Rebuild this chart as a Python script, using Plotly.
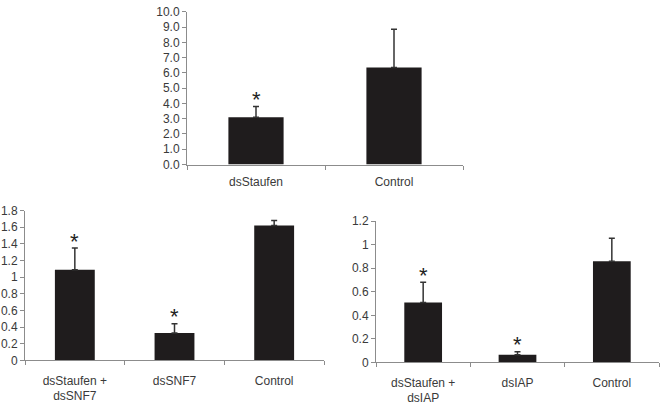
import plotly.graph_objects as go

# top panel
top_labels = ["dsStaufen", "Control"]
top_values = [3.1, 6.35]
top_errors = [0.7, 2.5]
top_stars = ["*", ""]

# bottom left panel
left_labels = ["dsStaufen +<br>dsSNF7", "dsSNF7", "Control"]
left_values = [1.09, 0.33, 1.62]
left_errors = [0.26, 0.11, 0.06]
left_stars = ["*", "*", ""]

# bottom right panel
right_labels = ["dsStaufen +<br>dsIAP", "dsIAP", "Control"]
right_values = [0.51, 0.065, 0.86]
right_errors = [0.17, 0.025, 0.195]
right_stars = ["*", "*", ""]

BAR = "#1f1c1d"
AXIS = "#8c8c8c"
TEXT = "#3a3a3a"

fig = go.Figure()

panels = [
    (top_labels, top_values, top_errors, top_stars, "x", "y"),
    (left_labels, left_values, left_errors, left_stars, "x2", "y2"),
    (right_labels, right_values, right_errors, right_stars, "x3", "y3"),
]
for labels, values, errors, stars, xa, ya in panels:
    fig.add_trace(
        go.Bar(
            x=labels,
            y=values,
            width=0.4,
            marker={"color": BAR, "line": {"width": 0}},
            error_y={
                "type": "data",
                "symmetric": False,
                "array": errors,
                "arrayminus": [0] * len(errors),
                "color": "#333333",
                "thickness": 1.5,
                "width": 3,
            },
            xaxis=xa,
            yaxis=ya,
            showlegend=False,
        )
    )
    # asterisks sit just above the error bar
    for label, v, e, s in zip(labels, values, errors, stars):
        if s:
            fig.add_annotation(
                x=label,
                y=v + e,
                xref=xa,
                yref=ya,
                text=s,
                showarrow=False,
                yanchor="middle",
                yshift=7,
                font={"size": 22, "color": "#222222", "family": "Liberation Sans"},
            )

xcommon = {
    "showline": True,
    "linecolor": AXIS,
    "linewidth": 1,
    "ticks": "outside",
    "tickson": "boundaries",
    "ticklen": 4,
    "tickcolor": AXIS,
    "showgrid": False,
    "tickfont": {"size": 12, "color": TEXT},
    "fixedrange": True,
}
ycommon = {
    "showline": True,
    "linecolor": AXIS,
    "linewidth": 1,
    "ticks": "outside",
    "ticklen": 4,
    "tickcolor": AXIS,
    "showgrid": False,
    "zeroline": False,
    "tickfont": {"size": 12, "color": TEXT},
}

fig.update_layout(
    width=660,
    height=405,
    margin={"l": 0, "r": 0, "t": 0, "b": 0},
    paper_bgcolor="white",
    plot_bgcolor="white",
    font={"family": "Liberation Sans, Arial, sans-serif"},
    xaxis={**xcommon, "domain": [187 / 660, 463 / 660], "anchor": "y", "ticklabelstandoff": 6},
    yaxis={**ycommon, "domain": [241 / 405, 400 / 405], "anchor": "x",
           "range": [0, 10], "dtick": 1, "tickformat": ".1f"},
    xaxis2={**xcommon, "domain": [25 / 660, 324 / 660], "anchor": "y2", "ticklabelstandoff": 9},
    yaxis2={**ycommon, "domain": [37 / 405, 193 / 405], "anchor": "x2",
            "range": [0, 1.8], "dtick": 0.2},
    xaxis3={**xcommon, "domain": [376 / 660, 659 / 660], "anchor": "y3", "ticklabelstandoff": 9},
    yaxis3={**ycommon, "domain": [35 / 405, 182 / 405], "anchor": "x3",
            "range": [0, 1.2], "dtick": 0.2},
)

# drop the default page margin so the figure sits at the window's corner
fig.write_html(
    "out.html",
    config={"displayModeBar": False},
    post_script="document.body.style.margin='0';",
)
